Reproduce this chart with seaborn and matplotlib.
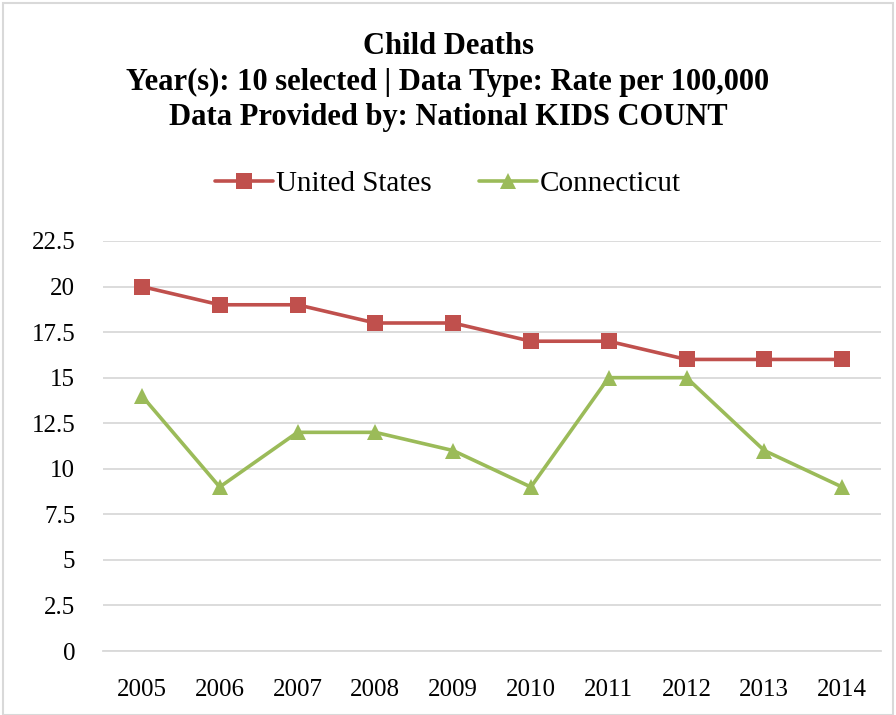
import matplotlib
matplotlib.use("Agg")
import matplotlib.pyplot as plt
import seaborn as sns
import pandas as pd
import numpy as np
from matplotlib.patches import Rectangle

years = ["2005", "2006", "2007", "2008", "2009", "2010", "2011", "2012", "2013", "2014"]
us_values = [20, 19, 19, 18, 18, 17, 17, 16, 16, 16]
ct_values = [14, 9, 12, 12, 11, 9, 15, 15, 11, 9]
y_ticks = [0, 2.5, 5, 7.5, 10, 12.5, 15, 17.5, 20, 22.5]
y_tick_labels = ["0", "2.5", "5", "7.5", "10", "12.5", "15", "17.5", "20", "22.5"]

df = pd.DataFrame({
    "pos": list(range(len(years))) * 2,
    "value": us_values + ct_values,
    "series": ["United States"] * len(years) + ["Connecticut"] * len(years),
})

sns.set_style("white")
plt.rcParams["font.family"] = ["Liberation Serif", "DejaVu Serif"]
plt.rcParams["text.color"] = "black"
plt.rcParams["xtick.color"] = "black"
plt.rcParams["ytick.color"] = "black"

fig = plt.figure(figsize=(8.96, 7.15), dpi=100)
ax = fig.add_axes([103/896, 1-651/715, (881-103)/896, (651-241)/715])

palette = {"United States": "#C0504D", "Connecticut": "#9BBB59"}
markers = {"United States": "s", "Connecticut": "^"}
sns.lineplot(data=df, x="pos", y="value", hue="series", style="series",
             palette=palette, markers=markers, dashes=False, markersize=11,
             linewidth=2.6, markeredgewidth=0, ax=ax, legend=True)

ax.set_xlim(-0.5, len(years) - 0.5)
ax.set_ylim(0, 22.5)
ax.set_yticks(y_ticks)
ax.set_yticklabels(y_tick_labels, fontsize=18)
ax.set_xticks(range(len(years)))
ax.set_xticklabels(years, fontsize=18)
ax.set_xticks(np.arange(-0.5, len(years), 1.0), minor=True)
ax.tick_params(axis="x", which="major", length=0, pad=20, labelcolor="black")
ax.tick_params(axis="x", which="minor", length=8, color="#D9D9D9", width=1.3)
ax.tick_params(axis="y", length=0, pad=20, labelcolor="black")
ax.grid(axis="y", color="#D9D9D9", linewidth=1.3)
ax.grid(axis="x", visible=False)
for s in ["top", "right", "left"]:
    ax.spines[s].set_visible(False)
ax.spines["bottom"].set_color("#D9D9D9")
ax.spines["bottom"].set_linewidth(1.3)
ax.set_xlabel("")
ax.set_ylabel("")

handles, labels = ax.get_legend_handles_labels()
ax.legend(handles, labels, loc="center", bbox_to_anchor=(0.5, 1-184/715),
          bbox_transform=fig.transFigure, ncol=2, frameon=False, fontsize=21,
          handlelength=2.0, handletextpad=0.1, columnspacing=1.6, markerscale=1.0,
          labelcolor="black")

fig.text(0.5, 1-32/715,
         "Child Deaths\nYear(s): 10 selected | Data Type: Rate per 100,000\nData Provided by: National KIDS COUNT",
         ha="center", va="top", fontsize=22, fontweight="bold", linespacing=1.3,
         color="black")

fig.patches.append(Rectangle((3/896, 0), 1 - 6/896, 1 - 3/715, transform=fig.transFigure,
                             fill=False, edgecolor="#D9D9D9", linewidth=1.5))

fig.savefig("out.png", dpi=100)
